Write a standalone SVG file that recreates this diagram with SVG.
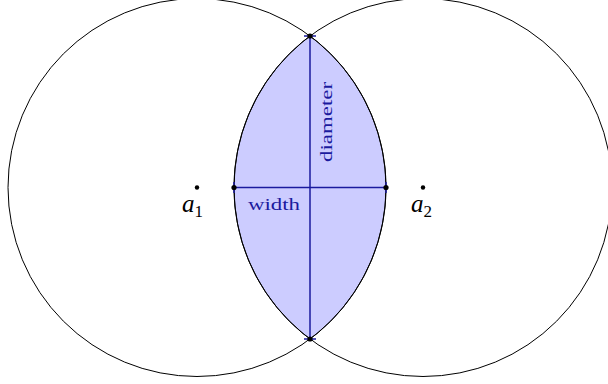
<svg xmlns="http://www.w3.org/2000/svg" width="608" height="384" viewBox="0 0 608 384">
  <style>
    .circle { fill: none; stroke: #000; stroke-width: 1; }
    .lens { fill: #ccccff; stroke: #000; stroke-width: 1; }
    .measure { stroke: #1a1a9e; stroke-width: 1.5; fill: none; }
    .dot { fill: #000; }
    .lbl { font-family: "Liberation Serif", "DejaVu Serif", serif; fill: #1a1a9e; font-size: 16px; }
    .pt { font-family: "Liberation Serif", "DejaVu Serif", serif; fill: #000; font-style: italic; font-size: 25px; }
    .sub { font-style: normal; font-size: 17px; }
  </style>
  <rect width="608" height="384" fill="#fff"/>
  <g id="lens">
    <path class="lens" d="M 310 36 A 189 189 0 0 1 310 339 A 189 189 0 0 1 310 36 Z"/>
  </g>
  <g id="circle-a1">
    <circle class="circle" cx="197" cy="187.5" r="189"/>
    <circle class="dot" cx="197" cy="187.5" r="2.2"/>
    <text class="pt" x="182" y="212">a<tspan class="sub" dy="5">1</tspan></text>
  </g>
  <g id="circle-a2">
    <circle class="circle" cx="423" cy="187.5" r="189"/>
    <circle class="dot" cx="423" cy="187.5" r="2.2"/>
    <text class="pt" x="411" y="212">a<tspan class="sub" dy="5">2</tspan></text>
  </g>
  <g id="connectors">
    <line class="measure" x1="310" y1="36" x2="310" y2="339"/>
    <line class="measure" x1="234" y1="187.5" x2="386" y2="187.5"/>
    <line class="measure" x1="304" y1="36" x2="316" y2="36"/>
    <line class="measure" x1="304" y1="339" x2="316" y2="339"/>
    <line class="measure" x1="234" y1="182" x2="234" y2="193"/>
    <line class="measure" x1="386" y1="182" x2="386" y2="193"/>
    <circle class="dot" cx="310" cy="36" r="2.6"/>
    <circle class="dot" cx="310" cy="339" r="2.6"/>
    <circle class="dot" cx="234" cy="187.5" r="2.6"/>
    <circle class="dot" cx="386" cy="187.5" r="2.6"/>
    <text class="lbl" x="248" y="210" textLength="52" lengthAdjust="spacingAndGlyphs">width</text>
    <text class="lbl" transform="translate(332,162) rotate(-90)" x="0" y="0" textLength="80" lengthAdjust="spacingAndGlyphs">diameter</text>
  </g>
</svg>
